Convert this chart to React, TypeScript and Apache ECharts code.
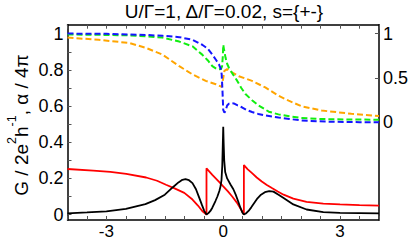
import React, { useEffect, useRef } from "react";
import * as echarts from "echarts";

// Conductance G (black, left axis)
const gX = [-4, -3.5, -3, -2.5, -2, -1.75, -1.5, -1.3, -1.15, -1.05, -0.97, -0.88, -0.79, -0.7, -0.62, -0.55, -0.49, -0.43, -0.38, -0.33, -0.28, -0.2, -0.15, -0.1, -0.07, -0.045, -0.025, -0.01, 0, 0.01, 0.025, 0.05, 0.1, 0.19, 0.26, 0.32, 0.38, 0.44, 0.49, 0.53, 0.58, 0.65, 0.72, 0.8, 0.88, 0.97, 1.07, 1.18, 1.29, 1.42, 1.55, 1.8, 2.14, 2.57, 3.0, 3.5, 4.0];
const gY = [0.007, 0.012, 0.018, 0.032, 0.058, 0.08, 0.11, 0.15, 0.178, 0.192, 0.196, 0.19, 0.174, 0.14, 0.095, 0.055, 0.022, 0.0, 0.008, 0.02, 0.038, 0.075, 0.1, 0.13, 0.156, 0.19, 0.27, 0.4, 0.485, 0.4, 0.3, 0.235, 0.2, 0.165, 0.14, 0.11, 0.075, 0.038, 0.012, 0.0, 0.006, 0.02, 0.04, 0.065, 0.09, 0.11, 0.124, 0.13, 0.127, 0.11, 0.092, 0.056, 0.028, 0.014, 0.009, 0.008, 0.007];

// alpha / 4pi (red, left axis)
const aX = [-4, -3.34, -2.9, -2.49, -1.98, -1.7, -1.47, -1.25, -1.0, -0.79, -0.65, -0.54, -0.43, -0.43, -0.28, -0.1, 0, 0.12, 0.23, 0.35, 0.48, 0.53, 0.53, 0.63, 0.74, 0.86, 0.99, 1.12, 1.25, 1.4, 1.55, 1.8, 2.14, 2.57, 3.0, 3.5, 4.0];
const aY = [0.252, 0.243, 0.236, 0.225, 0.205, 0.187, 0.165, 0.145, 0.12, 0.083, 0.05, 0.02, 0.0, 0.256, 0.22, 0.18, 0.156, 0.128, 0.1, 0.066, 0.02, 0.0, 0.274, 0.25, 0.229, 0.205, 0.183, 0.164, 0.147, 0.128, 0.11, 0.088, 0.07, 0.061, 0.056, 0.052, 0.05];

// blue dashed (right axis)
const bX = [-4, -3, -2.4, -2, -1.56, -1.13, -0.79, -0.54, -0.4, -0.28, -0.18, -0.11, -0.06, -0.04, -0.02, 0, 0.03, 0.06, 0.1, 0.145, 0.2, 0.27, 0.37, 0.48, 0.6, 0.74, 0.9, 1.08, 1.42, 1.7, 2.0, 2.4, 2.87, 3.5, 4.0];
const bY = [1.0, 0.997, 0.99, 0.985, 0.975, 0.96, 0.93, 0.874, 0.83, 0.763, 0.7, 0.652, 0.6, 0.54, 0.36, 0.14, 0.11, 0.13, 0.19, 0.21, 0.215, 0.213, 0.19, 0.17, 0.14, 0.116, 0.095, 0.078, 0.055, 0.038, 0.022, 0.012, 0.006, 0.002, 0.0];

// green dashed (right axis)
const cX = [-4, -3, -2.4, -2, -1.56, -1.13, -0.79, -0.54, -0.4, -0.28, -0.18, -0.11, -0.06, -0.03, -0.01, 0, 0.02, 0.06, 0.1, 0.145, 0.25, 0.36, 0.46, 0.57, 0.74, 0.91, 1.17, 1.42, 1.7, 2.0, 2.4, 2.87, 3.5, 4.0];
const cY = [0.99, 0.985, 0.98, 0.97, 0.955, 0.91, 0.856, 0.763, 0.7, 0.633, 0.605, 0.597, 0.6, 0.63, 0.75, 0.874, 0.82, 0.727, 0.66, 0.615, 0.54, 0.467, 0.39, 0.319, 0.25, 0.19, 0.12, 0.09, 0.068, 0.05, 0.04, 0.034, 0.031, 0.03];

// orange dashed (right axis)
const oX = [-4, -3.2, -2.4, -1.98, -1.56, -1.13, -0.79, -0.45, -0.19, -0.04, 0, 0.03, 0.1, 0.2, 0.4, 0.74, 1.08, 1.42, 1.68, 2.02, 2.53, 3.29, 4.0];
const oY = [0.955, 0.93, 0.893, 0.838, 0.763, 0.633, 0.54, 0.467, 0.43, 0.4, 0.5, 0.58, 0.6, 0.57, 0.52, 0.467, 0.393, 0.3, 0.244, 0.18, 0.133, 0.097, 0.071];

// ticks and labels
const xTicks = [-4, -3.5, -3, -2.5, -2, -1.5, -1, -0.5, 0, 0.5, 1, 1.5, 2, 2.5, 3, 3.5, 4];
const xLabels = [-3, 0, 3];
const yLeftTicks = [0, 0.1, 0.2, 0.3, 0.4, 0.5, 0.6, 0.7, 0.8, 0.9, 1];
const yLeftLabels = [0, 0.2, 0.4, 0.6, 0.8, 1];
const yRightValues = [0, 0.5, 1];

const titleText = "U/Γ=1, Δ/Γ=0.02, s={+-}";

const FONT = "'Liberation Sans', Arial, Helvetica, sans-serif";

const pairs = (xs: number[], ys: number[]) => xs.map((x, i) => [x, ys[i]]);

export default function App() {
  const ref = useRef<HTMLDivElement>(null);
  useEffect(() => {
    if (!ref.current) return;
    const chart = echarts.init(ref.current, null, { renderer: "svg" });
    const frame = { show: true, onZero: false, lineStyle: { color: "#000", width: 1.5 } };
    const tick = (vals: number[]) => ({
      show: true,
      inside: true,
      length: 4,
      customValues: vals,
      lineStyle: { color: "#555", width: 1 },
    });
    const labelStyle = { color: "#000", fontSize: 18, fontFamily: FONT };
    const dashed = (color: string) => ({ color, width: 2, type: [6, 3] as any });
    chart.setOption({
      animation: false,
      backgroundColor: "#fff",
      grid: { left: 67.5, right: 30, top: 24.7, bottom: 17.3, containLabel: false },
      xAxis: [
        {
          type: "value",
          min: -4,
          max: 4,
          position: "bottom",
          axisLine: frame,
          axisTick: tick(xTicks),
          axisLabel: { ...labelStyle, fontSize: 17, margin: 3, customValues: xLabels },
          splitLine: { show: false },
        },
        {
          type: "value",
          min: -4,
          max: 4,
          position: "top",
          axisLine: frame,
          axisTick: tick(xTicks),
          axisLabel: { show: false },
          splitLine: { show: false },
        },
      ],
      yAxis: [
        {
          type: "value",
          min: -0.03,
          max: 1.05,
          position: "left",
          axisLine: frame,
          axisTick: tick(yLeftTicks),
          axisLabel: { ...labelStyle, margin: 4, customValues: yLeftLabels },
          splitLine: { show: false },
        },
        {
          type: "value",
          min: -1.1,
          max: 1.1,
          position: "right",
          axisLine: frame,
          axisTick: tick(yRightValues),
          axisLabel: { ...labelStyle, margin: 4, customValues: yRightValues },
          splitLine: { show: false },
        },
      ],
      graphic: [
        {
          type: "text",
          x: 224,
          y: 11,
          style: {
            text: titleText,
            fontSize: 19,
            fontFamily: FONT,
            fill: "#000",
            align: "center",
            verticalAlign: "middle",
          },
        },
        {
          type: "text",
          x: 18,
          y: 125,
          rotation: Math.PI / 2,
          style: {
            text: "{a|G / 2e}{s|2}{a|h}{s|-1}{a|, α / 4π}",
            fill: "#000",
            align: "center",
            verticalAlign: "middle",
            rich: {
              a: { fontSize: 19, fontFamily: FONT, fill: "#000", lineHeight: 26, verticalAlign: "bottom" },
              s: { fontSize: 12.5, fontFamily: FONT, fill: "#000", lineHeight: 15, verticalAlign: "top" },
            },
          },
        },
      ],
      series: [
        { type: "line", yAxisIndex: 1, data: pairs(oX, oY), showSymbol: false, symbol: "none", lineStyle: dashed("#ffa500") },
        { type: "line", yAxisIndex: 1, data: pairs(cX, cY), showSymbol: false, symbol: "none", lineStyle: dashed("#11ee11") },
        { type: "line", yAxisIndex: 1, data: pairs(bX, bY), showSymbol: false, symbol: "none", lineStyle: dashed("#1515ff") },
        { type: "line", yAxisIndex: 0, data: pairs(aX, aY), showSymbol: false, symbol: "none", lineStyle: { color: "#ff0000", width: 1.8 } },
        { type: "line", yAxisIndex: 0, data: pairs(gX, gY), showSymbol: false, symbol: "none", lineStyle: { color: "#000", width: 1.8 } },
      ],
    });
    return () => chart.dispose();
  }, []);
  return <div ref={ref} style={{ position: "fixed", left: 0, top: 0, width: 411, height: 240 }} />;
}
